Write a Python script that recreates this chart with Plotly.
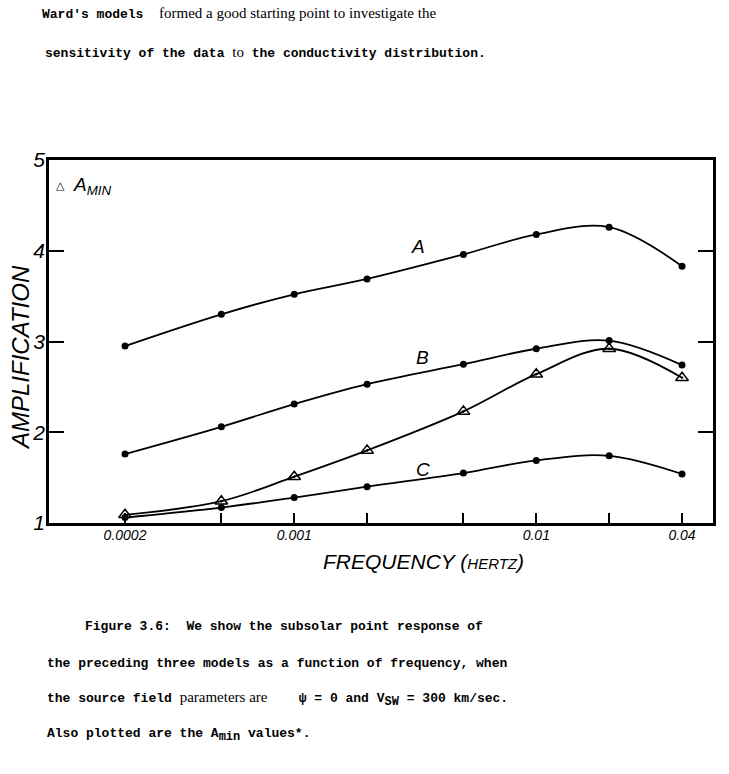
import plotly.graph_objects as go

# ---- data ----
freq = [0.0002, 0.0005, 0.001, 0.002, 0.005, 0.01, 0.02, 0.04]
amp_A = [2.95, 3.30, 3.52, 3.69, 3.96, 4.18, 4.26, 3.83]
amp_B = [1.76, 2.06, 2.31, 2.53, 2.75, 2.92, 3.01, 2.74]
amp_C = [1.06, 1.17, 1.28, 1.40, 1.55, 1.69, 1.74, 1.54]
amp_min = [1.09, 1.24, 1.51, 1.80, 2.23, 2.64, 2.92, 2.60]

x_tickvals = [0.0002, 0.001, 0.01, 0.04]
x_ticktext = ["0.0002", "0.001", "0.01", "0.04"]
x_minor_ticks = [0.0005, 0.002, 0.005, 0.02]
y_tickvals = [1, 2, 3, 4, 5]
y_ticktext = ["1", "2", "3", "4", "5"]

curve_labels = ["A", "B", "C"]

SERIF = "<span style='font-family:Liberation Serif;font-size:15px;font-weight:normal'>"
SUB = "<sub><span style='font-size:12px'>"
top_text = [
    "Ward's models  " + SERIF + "formed a good starting point to investigate the</span>",
    "sensitivity of the data " + SERIF + "to</span> the conductivity distribution.",
]
caption = [
    "Figure 3.6:  We show the subsolar point response of",
    "the preceding three models as a function of frequency, when",
    "the source field " + SERIF + "parameters are</span>    \u03c8 = 0 and V" + SUB + "SW</span></sub> = 300 km/sec.",
    "Also plotted are the A" + SUB + "min</span></sub> values*.",
]

W, H = 729, 774
L, R, T, B = 49, 16, 160, 251
pw, ph = W - L - R, H - T - B


def px(x):
    return (x - L) / pw


def py(y):
    return (H - B - y) / ph


fig = go.Figure()
line_style = dict(color="black", width=1.8, shape="spline", smoothing=1.0)
for ys in (amp_A, amp_B, amp_C):
    fig.add_trace(go.Scatter(
        x=freq, y=ys, mode="lines+markers",
        line=line_style,
        marker=dict(symbol="circle", size=7, color="black"),
        showlegend=False, hoverinfo="skip"))
fig.add_trace(go.Scatter(
    x=freq, y=amp_min, mode="lines+markers",
    line=line_style,
    marker=dict(symbol="triangle-up-open-dot", size=11, color="black",
                line=dict(width=1.5, color="black")),
    showlegend=False, hoverinfo="skip"))

italic_font = dict(family="Liberation Sans, Arial, sans-serif", color="black", style="italic")

fig.update_xaxes(
    type="log", range=[-4.013, -1.270],
    showline=True, linecolor="black", linewidth=2.5, mirror=True,
    ticks="inside", ticklen=10, tickwidth=2, tickcolor="black",
    tickmode="array", tickvals=x_tickvals, ticktext=x_ticktext,
    minor=dict(tickmode="array", tickvals=x_minor_ticks, ticks="inside",
               ticklen=10, tickwidth=2, tickcolor="black", showgrid=False),
    tickfont=dict(size=14, **italic_font),
    ticklabelstandoff=-3,
    showgrid=False, zeroline=False)
fig.update_yaxes(
    range=[1, 5],
    showline=True, linecolor="black", linewidth=2.5, mirror="ticks",
    ticks="inside", ticklen=15, tickwidth=2, tickcolor="black",
    tickmode="array", tickvals=y_tickvals, ticktext=y_ticktext,
    tickfont=dict(size=21, **italic_font),
    ticklabelstandoff=-3,
    showgrid=False, zeroline=False)

ann = []


def add(text, x, y, font, **kw):
    d = dict(text=text, x=px(x), y=py(y), xref="paper", yref="paper",
             xanchor="center", yanchor="middle", showarrow=False, font=font)
    d.update(kw)
    ann.append(d)


# curve labels
for lab, (x, y) in zip(curve_labels, [(418, 246), (422, 357), (423, 469)]):
    add(lab, x, y, dict(size=19, **italic_font))
# legend-like label
add("\u25b3", 60, 186, dict(size=11, family="DejaVu Sans", color="black"))
add("A<sub>MIN</sub>", 71, 186, dict(size=19, **italic_font), xanchor="left")
# axis titles
add("AMPLIFICATION", 20, 358, dict(size=24, **italic_font), textangle=-90)
add("FREQUENCY (<span style='font-size:15px'>HERTZ</span>)", 423, 561,
    dict(size=21, **italic_font))
# page text
mono = dict(family="Liberation Mono, Courier New, monospace", size=13,
            color="black", weight="bold")
for txt, (x, y) in zip(top_text, [(40, 14), (43, 52)]):
    add(txt, x, y, mono, xanchor="left")
for txt, (x, y) in zip(caption, [(83, 626), (45, 663), (45, 699), (45, 735)]):
    add(txt, x, y, mono, xanchor="left")

fig.update_layout(
    width=W, height=H,
    margin=dict(l=L, r=R, t=T, b=B, autoexpand=False),
    paper_bgcolor="white", plot_bgcolor="white",
    annotations=ann, showlegend=False)

fig.write_html("out.html")
